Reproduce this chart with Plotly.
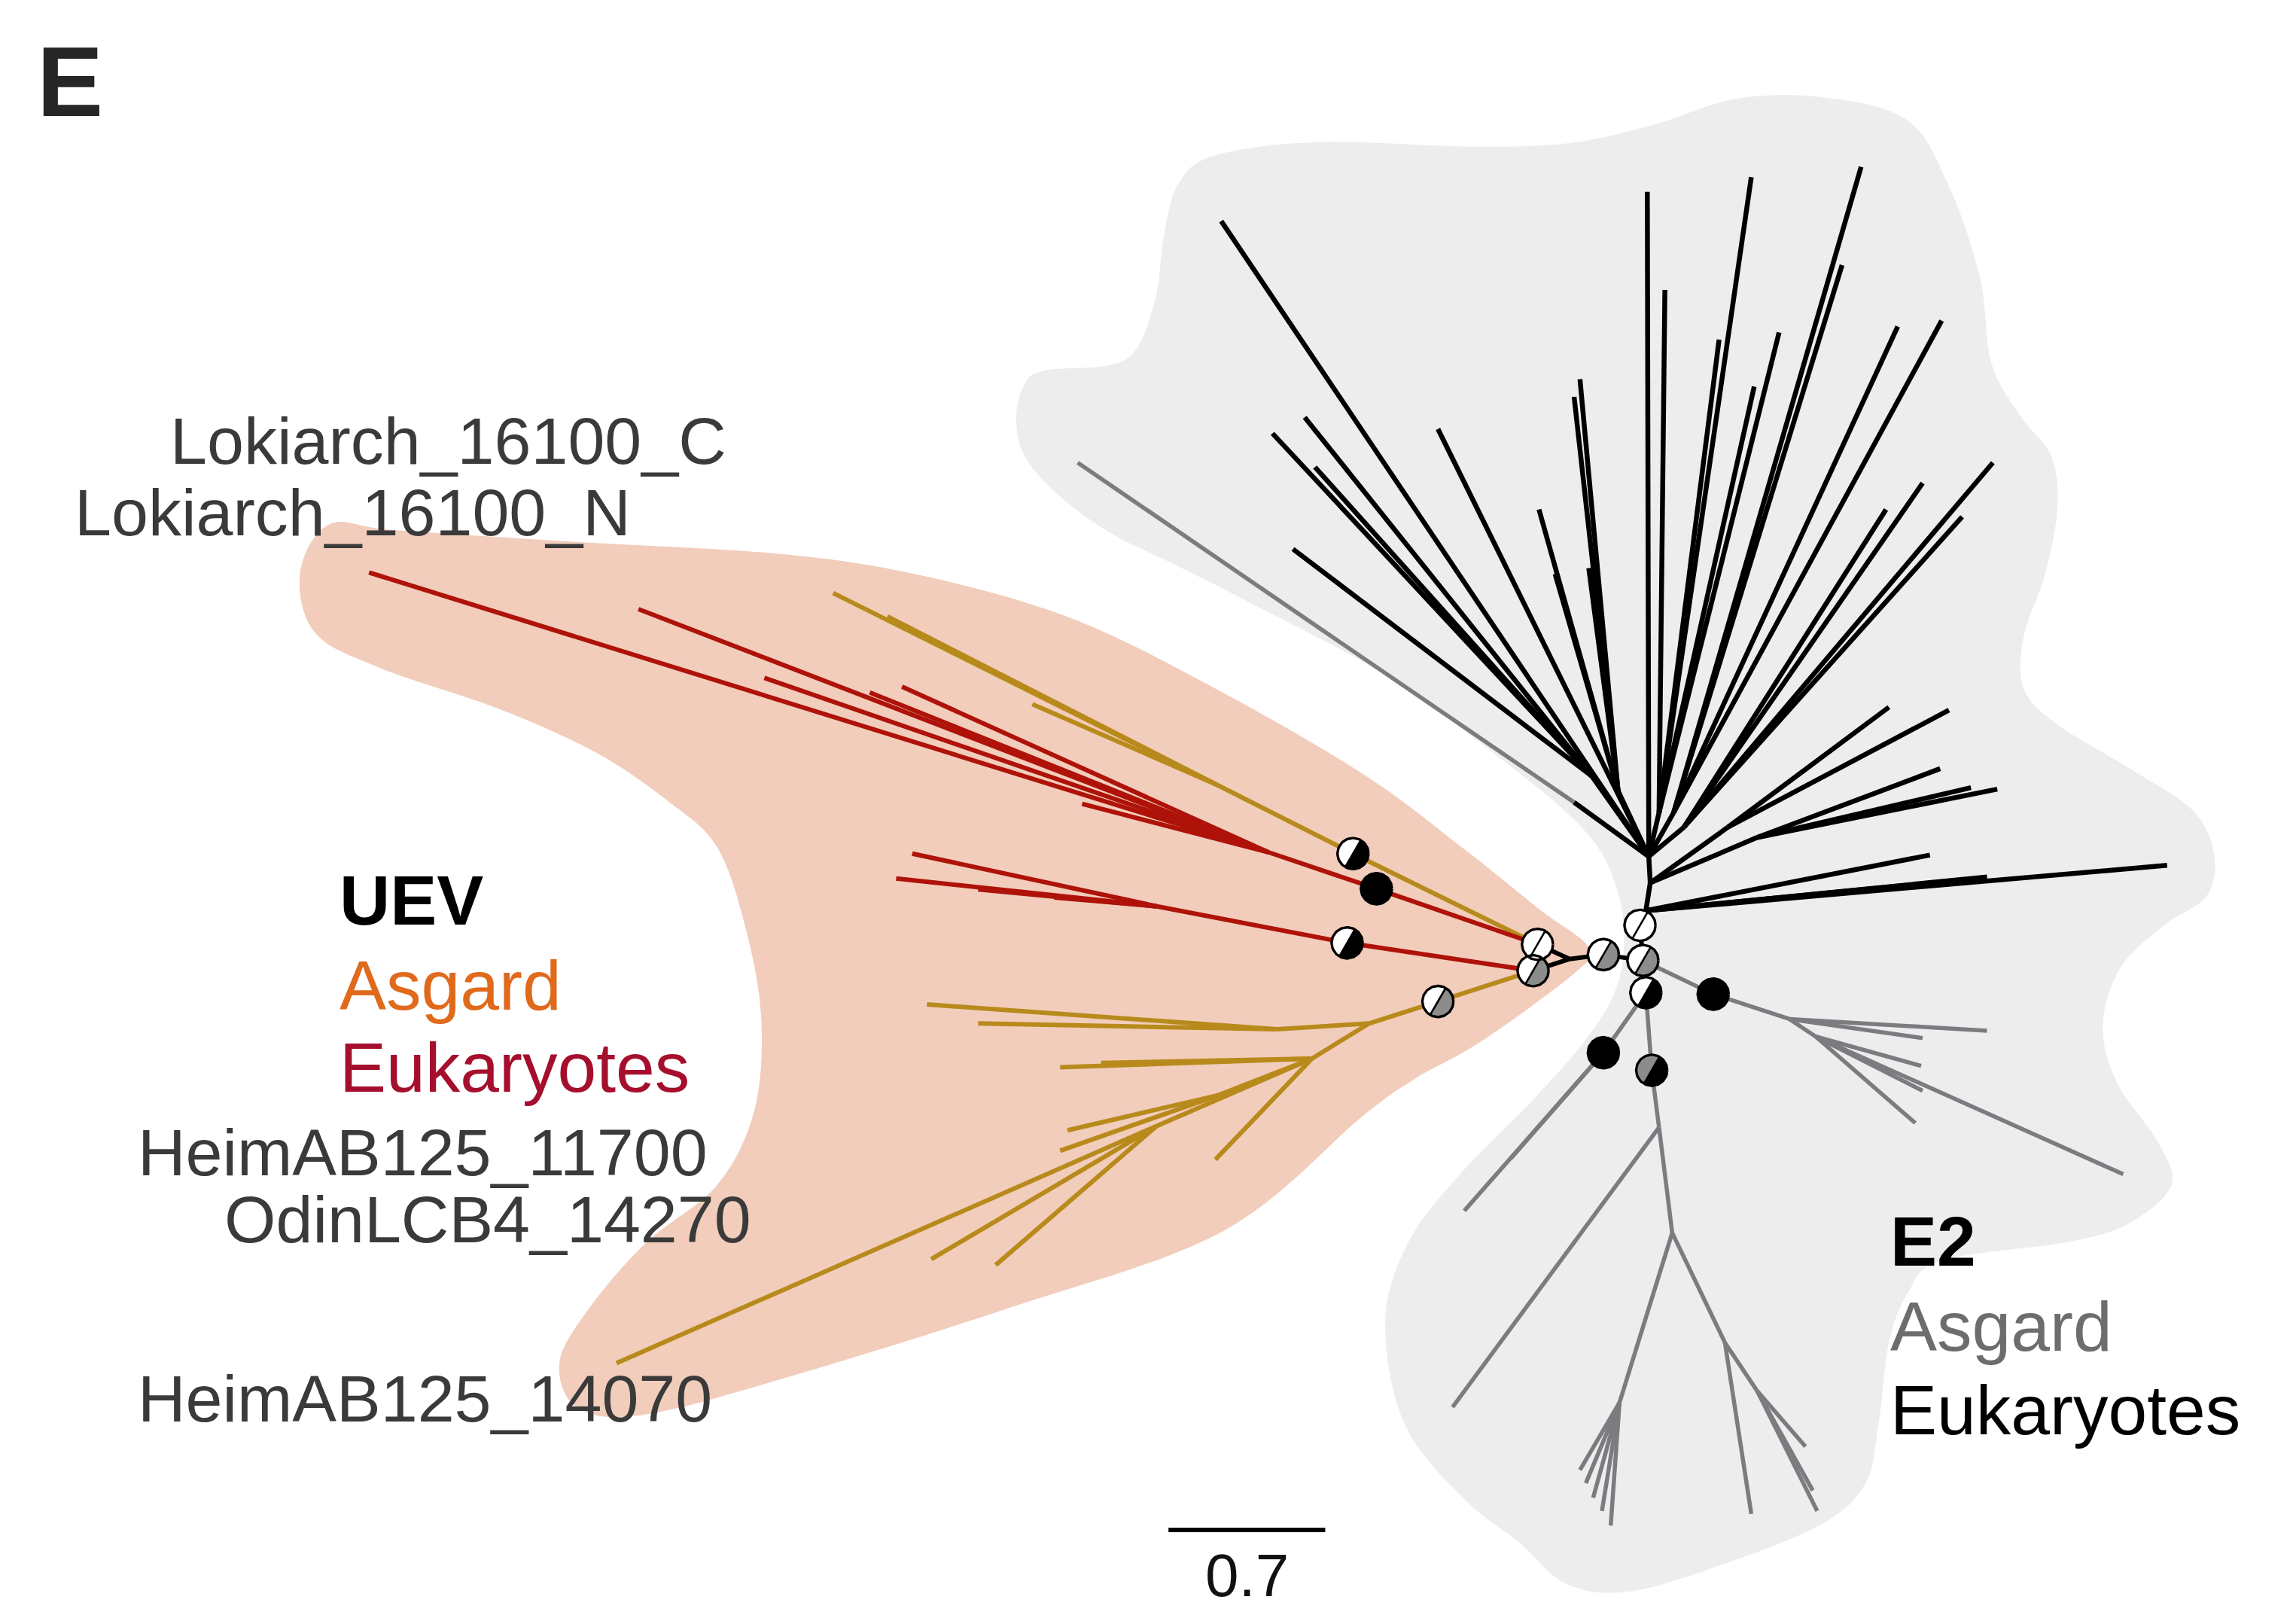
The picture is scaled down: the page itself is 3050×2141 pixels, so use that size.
import numpy as np
import plotly.graph_objects as go

# Drawing grid (tree layout units) and output size in pixels
GRID_W, GRID_H = 1568, 1101
FIG_W, FIG_H = 3050, 2141

# ---------------------------------------------------------------------------
# Tree layout: node positions on the drawing grid and parent of every node.
# Each clade keeps its own small set of arrays; the edge to the parent takes
# the colour of the clade the child belongs to.
# ---------------------------------------------------------------------------

# backbone joining UEV and E2 families
core_name = ["G", "U0", "E", "F", "I", "H", "J"]
core_x = [1095, 1072, 1050, 1047, 1122, 1120, 1124]
core_y = [652, 655, 645, 663, 656, 632, 678]
core_parent = [None, "G", "U0", "U0", "G", "I", "I"]

# UEV - eukaryotic sequences
uev_euk_name = ["B", "Rb1", "uE1", "uE2", "uE3", "uE4", "uE5", "uE6",
                "C", "Rc1", "uE7", "uE8", "uE9", "uE10"]
uev_euk_x = [940, 866, 252, 436, 522, 594, 616, 739,
             920, 790, 623, 612, 668, 720]
uev_euk_y = [607, 582, 391, 416, 463, 473, 469, 549,
             644, 619, 583, 600, 607.5, 613]
uev_euk_parent = ["E", "B", "Rb1", "Rb1", "Rb1", "Rb1", "Rb1", "Rb1",
                  "F", "C", "Rc1", "Rc1", "Rc1", "Rc1"]

# UEV - Asgard sequences
uev_asg_name = ["A", "Ag1", "uA1", "uA2", "uA3",
                "D", "N1", "G1", "uA4", "uA5", "N2", "uA6", "uA7",
                "N3", "uA8", "uA9", "uA10", "N4", "uA11", "uA12", "uA13"]
uev_asg_x = [924, 831, 569, 606, 705,
             982, 935, 872, 633, 668, 896, 724, 752,
             832, 729, 724, 830, 790, 421, 636, 680]
uev_asg_y = [583, 536, 405, 421, 481,
             684, 699, 703, 686, 699, 723, 729, 726,
             748, 772, 786, 792, 769, 931, 860, 864]
uev_asg_parent = ["E", "A", "Ag1", "Ag1", "Ag1",
                  "F", "D", "N1", "G1", "G1", "N1", "N2", "N2",
                  "N2", "N3", "N3", "N2", "N2", "N4", "N4", "N4"]

# E2 - eukaryotic sequences
e2_euk_name = ["Tb0", "eE1", "eE2", "eE3", "eE4",
               "Tb1", "Tb1a", "eE5", "eE6", "Tb1b", "eE7", "eE8", "eE9",
               "Tb2", "eE10", "Tp0",
               "Tp1", "eE11", "eE12", "eE13", "eE14",
               "eE15",
               "Tp2", "eE16", "eE17", "eE18", "eE19", "eE20",
               "eE21",
               "Tp3", "eE22", "eE23", "eE24", "eE25", "eE26",
               "Tp4", "eE27", "eE28", "eE29", "eE30",
               "Tp5", "eE31", "eE32", "eE33", "eE34"]
e2_euk_x = [1124, 1480, 1357, 1320, 1318,
            1127, 1180, 1290, 1331, 1200, 1325, 1364, 1346,
            1126, 834, 1075,
            1087, 869, 891, 898, 883,
            982,
            1105, 1051, 1062, 1075, 1079, 1085,
            1125,
            1133, 1137, 1174, 1196, 1215, 1198,
            1143, 1271, 1258, 1296, 1326,
            1150, 1361, 1313, 1340, 1288]
e2_euk_y = [622, 591, 599, 603, 584,
            603, 565, 483, 485, 572, 525, 539, 538,
            585, 151, 548,
            530, 296, 285, 319, 375,
            293,
            540, 348, 392, 271, 259, 388,
            131,
            555, 198, 232, 121, 227, 264,
            555, 114, 181, 223, 219,
            565, 316, 330, 353, 348]
e2_euk_parent = ["H", "Tb0", "Tb0", "Tb0", "Tb0",
                 "Tb0", "Tb1", "Tb1a", "Tb1a", "Tb1", "Tb1b", "Tb1b", "Tb1b",
                 "Tb1", "Tb2", "Tb2",
                 "Tb2", "Tp1", "Tp1", "Tp1", "Tp1",
                 "Tb2",
                 "Tb2", "Tp2", "Tp2", "Tp2", "Tp2", "Tp2",
                 "Tb2",
                 "Tb2", "Tp3", "Tp3", "Tp3", "Tp3", "Tp3",
                 "Tb2", "Tp4", "Tp4", "Tp4", "Tp4",
                 "Tb2", "Tp5", "Tp5", "Tp5", "Tp5"]

# E2 - Asgard sequences
e2_asg_name = ["eA0", "K", "R0", "eA1", "eA2", "R1", "eA3", "eA4", "eA5", "eA6",
               "L", "eA7", "eA8", "M", "Q1", "eA9", "Q2",
               "Q3", "eA10", "eA11", "eA12", "eA13", "eA14",
               "Q4", "eA15", "Q5", "eA16", "eA17", "eA18"]
e2_asg_x = [736, 1170, 1222, 1357, 1313, 1240, 1312, 1313, 1308, 1450,
            1095, 1000, 1032, 1128, 1133, 992, 1142,
            1106, 1079, 1083, 1088, 1094, 1100,
            1178, 1196, 1200, 1233, 1241, 1238]
e2_asg_y = [316, 679, 696, 704, 709, 708, 728, 745, 767, 802,
            719, 827, 791, 731, 770, 961, 842,
            958, 1004, 1013, 1023, 1032, 1042,
            917, 1034, 950, 988, 1032, 1018]
e2_asg_parent = ["Tp0", "I", "K", "R0", "R0", "R0", "R1", "R1", "R1", "R1",
                 "J", "L", "L", "J", "M", "Q1", "Q1",
                 "Q2", "Q3", "Q3", "Q3", "Q3", "Q3",
                 "Q2", "Q4", "Q4", "Q5", "Q5", "Q5"]

# Branch support symbols (upper-left half / lower-right half)
support_node = ["A", "B", "C", "D", "E", "F", "G", "H", "I", "J", "K", "L", "M"]
support_upper = ["white", "black", "white", "white", "white", "white", "white",
                 "white", "white", "white", "black", "black", "grey"]
support_lower = ["black", "black", "black", "grey", "white", "grey", "grey",
                 "white", "grey", "black", "black", "black", "black"]

# Scale bar
SCALE_LEN = 0.7
GRID_PER_UNIT = 152.9
SCALE_X0, SCALE_Y = 798, 1045

# Clade hulls (outline vertices on the drawing grid)
uev_hull_x = [225, 269, 392, 540, 638, 736, 835, 933, 1000, 1050, 1085, 1076, 1012,
              966, 931, 835, 687, 540, 441, 395, 382, 402, 441, 490, 515, 520, 510,
              490, 456, 407, 343, 259, 215, 205]
uev_hull_y = [358, 362, 370, 379, 395, 424, 473, 530, 580, 620, 647, 664, 711,
              737, 762, 841, 894, 940, 966, 962, 931, 894, 849, 809, 759, 698, 637,
              579, 547, 514, 485, 456, 432, 391]
e2_hull_x = [694, 700, 714, 768, 788, 795, 805, 830, 900, 1000, 1070, 1130, 1183,
             1240, 1301, 1330, 1352, 1360, 1379, 1401, 1405, 1397, 1382, 1382, 1404,
             1453, 1497, 1512, 1507, 1478, 1448, 1436, 1446, 1473, 1483, 1455, 1414,
             1326, 1303, 1290, 1283, 1274, 1244, 1178, 1113, 1070, 1038, 998, 959,
             946, 962, 998, 1047, 1083, 1103, 1109, 1105, 1087, 1040, 949, 860, 801,
             760, 725, 700]
e2_hull_y = [285, 262, 253, 246, 208, 160, 125, 106, 97, 100, 98, 85, 68,
             66, 81, 125, 189, 248, 283, 312, 347, 391, 435, 470, 494,
             524, 553, 583, 612, 632, 661, 701, 740, 779, 809, 835, 848,
             861, 883, 917, 972, 1013, 1041, 1068, 1087, 1082, 1054, 1022, 972,
             903, 848, 801, 751, 710, 677, 645, 610, 573, 530, 463, 415, 385,
             365, 340, 312]

# Text labels
leaf_labels = ["Lokiarch_16100_C", "Lokiarch_16100_N", "HeimAB125_11700",
               "OdinLCB4_14270", "HeimAB125_14070"]
leaf_label_x = [115, 50, 93, 152, 93]
leaf_label_y = [301, 350, 787, 833, 955]

# ---------------------------------------------------------------------------
COLORS = {
    "core": "#000000",
    "uev_euk": "#ae1208",
    "uev_asg": "#b88a1c",
    "e2_euk": "#000000",
    "e2_asg": "#7c7b80",
}
WIDTHS = {"core": 6, "uev_euk": 6, "uev_asg": 6, "e2_euk": 6.5, "e2_asg": 5.5}
FILLS = {"white": "#ffffff", "black": "#000000", "grey": "#8c8c8c"}

clades = {
    "core": (core_name, core_x, core_y, core_parent),
    "uev_euk": (uev_euk_name, uev_euk_x, uev_euk_y, uev_euk_parent),
    "uev_asg": (uev_asg_name, uev_asg_x, uev_asg_y, uev_asg_parent),
    "e2_euk": (e2_euk_name, e2_euk_x, e2_euk_y, e2_euk_parent),
    "e2_asg": (e2_asg_name, e2_asg_x, e2_asg_y, e2_asg_parent),
}

pos = {}
for names, xs, ys, _ in clades.values():
    for n, x, y in zip(names, xs, ys):
        pos[n] = (x, y)


def smooth_closed_path(xs, ys):
    """Closed Catmull-Rom spline through the outline vertices, as SVG path."""
    p = np.column_stack([xs, ys]).astype(float)
    n = len(p)
    d = f"M {p[0,0]:.1f},{p[0,1]:.1f} "
    for i in range(n):
        p0, p1, p2, p3 = p[i - 1], p[i], p[(i + 1) % n], p[(i + 2) % n]
        c1 = p1 + (p2 - p0) / 6.0
        c2 = p2 - (p3 - p1) / 6.0
        d += (f"C {c1[0]:.1f},{c1[1]:.1f} {c2[0]:.1f},{c2[1]:.1f} "
              f"{p2[0]:.1f},{p2[1]:.1f} ")
    return d + "Z"


fig = go.Figure()

# Branches, drawn clade by clade
for key in ["e2_asg", "uev_asg", "uev_euk", "e2_euk", "core"]:
    names, xs, ys, parents = clades[key]
    bx, by = [], []
    for n, x, y, par in zip(names, xs, ys, parents):
        if par is None:
            continue
        px, py = pos[par]
        bx += [px, x, None]
        by += [py, y, None]
    fig.add_trace(go.Scatter(
        x=bx, y=by, mode="lines",
        line=dict(color=COLORS[key], width=WIDTHS[key]),
        hoverinfo="skip"))

# Support symbols: circles split along a "/" diagonal
R = 10.6
SPLIT = np.deg2rad(60)


def half(cx, cy, a0, a1):
    t = np.linspace(a0, a1, 40)
    return list(cx + R * np.cos(t)), list(cy - R * np.sin(t))


fill_parts = {k: ([], []) for k in FILLS}
ox, oy, dx, dy = [], [], [], []
for node, up, lo in zip(support_node, support_upper, support_lower):
    cx, cy = pos[node]
    hx, hy = half(cx, cy, SPLIT, SPLIT + np.pi)
    fill_parts[up][0].extend(hx + [None])
    fill_parts[up][1].extend(hy + [None])
    hx, hy = half(cx, cy, SPLIT + np.pi, SPLIT + 2 * np.pi)
    fill_parts[lo][0].extend(hx + [None])
    fill_parts[lo][1].extend(hy + [None])
    t = np.linspace(0, 2 * np.pi, 80)
    ox += list(cx + R * np.cos(t)) + [None]
    oy += list(cy - R * np.sin(t)) + [None]
    dx += [cx + R * np.cos(SPLIT + np.pi), cx + R * np.cos(SPLIT), None]
    dy += [cy - R * np.sin(SPLIT + np.pi), cy - R * np.sin(SPLIT), None]

for k, (fx, fy) in fill_parts.items():
    if fx:
        fig.add_trace(go.Scatter(
            x=fx, y=fy, mode="lines", fill="toself", fillcolor=FILLS[k],
            line=dict(width=0, color=FILLS[k]), hoverinfo="skip"))
fig.add_trace(go.Scatter(x=dx, y=dy, mode="lines",
                         line=dict(color="#000000", width=2.6), hoverinfo="skip"))
fig.add_trace(go.Scatter(x=ox, y=oy, mode="lines",
                         line=dict(color="#000000", width=3.4), hoverinfo="skip"))

# Scale bar
fig.add_trace(go.Scatter(
    x=[SCALE_X0, SCALE_X0 + SCALE_LEN * GRID_PER_UNIT], y=[SCALE_Y, SCALE_Y],
    mode="lines", line=dict(color="#000000", width=6), hoverinfo="skip"))

# Clade hulls behind everything
shapes = [
    dict(type="path", path=smooth_closed_path(e2_hull_x, e2_hull_y),
         xref="x", yref="y", fillcolor="#ededed", line=dict(width=0),
         layer="below"),
    dict(type="path", path=smooth_closed_path(uev_hull_x, uev_hull_y),
         xref="x", yref="y", fillcolor="#f2cdbc", line=dict(width=0),
         layer="below"),
]

FONT = "Liberation Sans, Arial, Helvetica, sans-serif"
ann = []
for txt, x, y in zip(leaf_labels, leaf_label_x, leaf_label_y):
    ann.append(dict(x=x, y=y, text=txt, xanchor="left", yanchor="middle",
                    font=dict(family=FONT, size=88, color="#3a3a3a")))

legend_blocks = [
    (231, [(615, "<b>UEV</b>", "#000000"), (673, "Asgard", "#e06a1c"),
           (729, "Eukaryotes", "#a50f2d")]),
    (1290, [(848, "<b>E2</b>", "#000000"), (906, "Asgard", "#6d6d70"),
            (963, "Eukaryotes", "#000000")]),
]
for lx, rows in legend_blocks:
    for ly, txt, col in rows:
        ann.append(dict(x=lx, y=ly, text=txt, xanchor="left", yanchor="middle",
                        font=dict(family=FONT, size=93, color=col)))

ann.append(dict(x=SCALE_X0 + SCALE_LEN * GRID_PER_UNIT / 2, y=1076,
                text=f"{SCALE_LEN}", xanchor="center", yanchor="middle",
                font=dict(family=FONT, size=80, color="#111111")))
ann.append(dict(x=24, y=56, text="<b>E</b>", xanchor="left", yanchor="middle",
                font=dict(family=FONT, size=132, color="#262626")))

for a in ann:
    a.update(xref="x", yref="y", showarrow=False)

fig.update_layout(
    width=FIG_W, height=FIG_H,
    margin=dict(l=0, r=0, t=0, b=0, pad=0),
    paper_bgcolor="#ffffff", plot_bgcolor="#ffffff",
    showlegend=False,
    shapes=shapes, annotations=ann,
    xaxis=dict(range=[0, GRID_W], visible=False, fixedrange=True),
    yaxis=dict(range=[GRID_H, 0], visible=False, fixedrange=True),
)

fig.write_html("out.html")
